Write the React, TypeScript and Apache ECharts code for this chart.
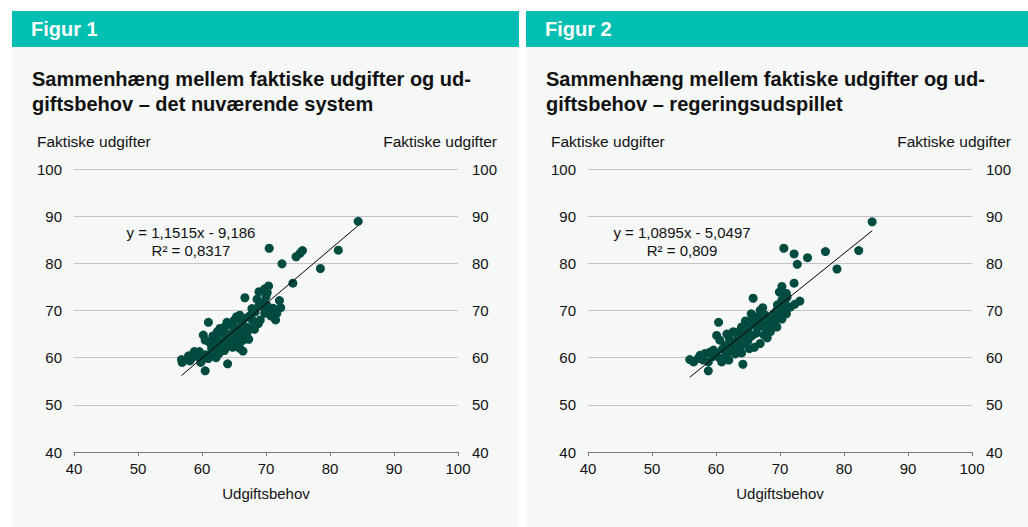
import React, { useEffect, useRef } from "react";
import * as echarts from "echarts";

// ---- Data ----
const panelHeaders = ["Figur 1", "Figur 2"];
const panelTitles = [
  "Sammenhæng mellem faktiske udgifter og ud-\ngiftsbehov – det nuværende system",
  "Sammenhæng mellem faktiske udgifter og ud-\ngiftsbehov – regeringsudspillet",
];
const yAxisName = "Faktiske udgifter";
const xAxisName = "Udgiftsbehov";
const axisMin = 40;
const axisMax = 100;
const axisStep = 10;

const trend1 = { slope: 1.1515, intercept: -9.186, label: "y = 1,1515x - 9,186", r2: "R² = 0,8317" };
const trend2 = { slope: 1.0895, intercept: -5.0497, label: "y = 1,0895x - 5,0497", r2: "R² = 0,809" };

// [udgiftsbehov, faktiske udgifter]
const points1: [number, number][] = [
  [84.4, 88.9], [81.3, 82.8], [78.5, 78.9], [75.7, 82.7], [75.3, 82.1], [74.7, 81.4], [70.5, 83.2],
  [72.5, 79.9], [74.2, 75.8], [70.4, 75.2], [68.9, 74.0], [70.2, 73.8], [68.6, 72.4], [66.7, 72.7],
  [72.1, 72.1], [69.8, 74.6], [70.0, 72.9],
  [71.7, 69.4], [71.1, 70.5], [70.4, 70.1], [69.8, 69.4], [69.1, 68.0], [70.8, 68.8], [71.5, 68.0],
  [69.5, 70.8], [68.3, 69.7], [67.6, 69.0], [68.8, 67.2], [67.9, 67.9], [67.2, 68.6], [66.5, 68.3],
  [65.9, 69.0], [65.4, 68.7], [66.2, 67.6], [65.0, 67.9], [64.6, 66.9], [66.9, 66.5], [67.5, 66.2],
  [68.2, 66.0], [66.0, 66.3], [65.5, 65.6],
  [63.6, 66.6], [63.3, 65.2], [62.8, 66.2], [62.4, 65.5], [64.3, 65.0], [64.9, 64.6], [65.8, 64.9],
  [66.8, 64.6], [67.3, 63.9], [66.3, 63.6], [65.4, 63.4], [64.7, 63.6], [63.9, 63.9], [63.2, 63.4],
  [62.3, 64.0], [61.7, 64.6], [61.2, 63.2], [60.5, 63.7], [60.2, 64.8], [61.0, 67.5], [64.0, 62.4],
  [64.8, 62.2], [65.9, 62.0], [66.4, 61.4], [63.0, 62.3], [62.3, 62.3], [61.8, 61.3], [61.3, 60.6],
  [62.6, 60.8], [63.5, 61.5],
  [60.0, 59.5], [59.4, 60.2], [58.9, 60.9], [58.4, 59.9], [59.6, 61.3], [60.6, 60.6], [61.0, 59.8],
  [59.8, 59.0], [56.8, 59.6], [56.9, 59.0], [57.9, 60.4], [58.1, 59.3], [60.5, 57.2], [64.0, 58.7],
  [62.2, 60.0],
  [69.3, 71.6], [67.8, 70.4], [72.3, 70.6], [68.9, 71.0], [65.1, 66.4], [63.9, 67.5], [62.0, 62.8],
  [67.0, 65.1], [58.8, 61.3], [61.5, 62.0], [70.1, 71.2], [62.8, 61.6],
];

const points2: [number, number][] = [
  [84.4, 88.8], [82.3, 82.7], [78.9, 78.8], [77.1, 82.5], [74.3, 81.2], [72.2, 82.0], [70.6, 83.2],
  [72.7, 79.8], [72.2, 75.8], [70.3, 75.1], [69.9, 73.9], [70.5, 73.2], [71.1, 72.8], [65.8, 72.6],
  [73.1, 72.0], [72.3, 71.3], [71.6, 70.7], [71.0, 69.3], [69.5, 70.0], [70.3, 72.2], [71.0, 73.6],
  [70.0, 70.0], [70.8, 70.4], [69.0, 69.3], [68.4, 67.6], [67.4, 67.2], [69.5, 68.3], [67.7, 69.0],
  [66.9, 70.0], [66.4, 68.6], [65.3, 66.8], [64.8, 65.1], [64.0, 66.5], [63.5, 64.4], [63.0, 63.0],
  [62.2, 61.6], [62.7, 65.5], [66.9, 63.0], [68.2, 68.5], [67.0, 68.0], [66.0, 67.3], [65.7, 68.2],
  [68.8, 66.6], [70.3, 68.2], [69.6, 71.2],
  [60.4, 67.5], [60.1, 64.7], [60.6, 63.7], [61.4, 62.6], [62.1, 64.0], [61.7, 65.0], [63.4, 62.0],
  [64.2, 62.8], [65.0, 63.6], [65.6, 64.6], [66.3, 65.2], [64.5, 64.0], [63.8, 63.4], [62.6, 62.5],
  [61.7, 61.0], [66.0, 62.2], [67.5, 64.8], [65.2, 61.9], [64.0, 61.0], [63.0, 60.8],
  [57.5, 60.5], [58.3, 60.9], [59.1, 61.2], [59.6, 61.6], [58.0, 59.5], [58.8, 59.1], [60.6, 59.9],
  [60.9, 59.1], [55.9, 59.6], [56.5, 59.1], [58.8, 57.2], [64.2, 58.6], [57.2, 59.8], [59.5, 60.2],
  [62.0, 59.5], [61.5, 60.3], [60.0, 60.8],
  [67.8, 66.0], [68.5, 65.5], [66.5, 66.3], [65.0, 66.0], [63.8, 65.8], [62.5, 63.5], [61.0, 61.8],
  [69.2, 67.8], [70.8, 71.5], [67.3, 70.6], [65.5, 69.3], [64.6, 67.8], [68.0, 64.2], [69.5, 66.5],
];

// ---- Styles ----
const TEAL = "#00BFB2";
const PANEL_BG = "#F6F8F8";
const DOT = "#004B40";
const FONT = "'Liberation Sans', Arial, sans-serif";
const TEXT = "#111111";

function trendLine(pts: [number, number][], t: { slope: number; intercept: number }) {
  const xs = pts.map((p) => p[0]);
  const x0 = Math.min(...xs);
  const x1 = Math.max(...xs);
  return [
    [x0, t.slope * x0 + t.intercept],
    [x1, t.slope * x1 + t.intercept],
  ];
}

export default function App() {
  const ref = useRef<HTMLDivElement>(null);

  useEffect(() => {
    if (!ref.current) return;
    const chart = echarts.init(ref.current, null, { renderer: "svg" });

    const panels = [
      { x: 12, w: 507, gridLeft: 74, pts: points1, trend: trend1, eqX: 191 },
      { x: 526, w: 502, gridLeft: 588, pts: points2, trend: trend2, eqX: 682 },
    ];
    const gridW = 384;
    const gridTop = 169;
    const gridH = 283;

    const graphics: any[] = [];
    panels.forEach((p, i) => {
      graphics.push({
        type: "rect",
        z: -10,
        shape: { x: p.x, y: 47, width: p.w, height: 480 },
        style: { fill: PANEL_BG },
        silent: true,
      });
      graphics.push({
        type: "rect",
        z: -10,
        shape: { x: p.x, y: 11, width: p.w, height: 36 },
        style: { fill: TEAL },
        silent: true,
      });
      graphics.push({
        type: "text",
        x: p.x + 19,
        y: 29,
        style: {
          text: panelHeaders[i],
          fill: "#ffffff",
          font: `bold 20px ${FONT}`,
          verticalAlign: "middle",
          align: "left",
        },
      });
      graphics.push({
        type: "text",
        x: p.x + 20,
        y: 66,
        style: {
          text: panelTitles[i],
          fill: TEXT,
          font: `bold 20px ${FONT}`,
          lineHeight: 25,
          verticalAlign: "top",
          align: "left",
        },
      });
      graphics.push({
        type: "text",
        x: p.gridLeft - 37,
        y: 141,
        style: { text: yAxisName, fill: TEXT, font: `15.5px ${FONT}`, verticalAlign: "middle", align: "left" },
      });
      graphics.push({
        type: "text",
        x: p.gridLeft + gridW + 39,
        y: 141,
        style: { text: yAxisName, fill: TEXT, font: `15.5px ${FONT}`, verticalAlign: "middle", align: "right" },
      });
      graphics.push({
        type: "text",
        x: p.eqX,
        y: 223,
        style: {
          text: p.trend.label + "\n" + p.trend.r2,
          fill: TEXT,
          font: `15px ${FONT}`,
          lineHeight: 18,
          verticalAlign: "top",
          align: "center",
        },
      });
    });

    const xAxes: any[] = [];
    const yAxes: any[] = [];
    const series: any[] = [];
    const grids: any[] = [];
    panels.forEach((p, i) => {
      grids.push({ left: p.gridLeft, top: gridTop, width: gridW, height: gridH });
      xAxes.push({
        type: "value",
        gridIndex: i,
        min: axisMin,
        max: axisMax,
        interval: axisStep,
        name: xAxisName,
        nameLocation: "middle",
        nameGap: 34,
        nameTextStyle: { fontSize: 15, fontFamily: FONT, color: TEXT },
        axisLine: { show: true, lineStyle: { color: "#7a7a7a", width: 1 } },
        axisTick: { show: true, length: 4, lineStyle: { color: "#7a7a7a" } },
        axisLabel: { fontSize: 15, fontFamily: FONT, color: TEXT, margin: 9 },
        splitLine: { show: false },
        z: 5,
      });
      yAxes.push({
        type: "value",
        gridIndex: i,
        position: "left",
        min: axisMin,
        max: axisMax,
        interval: axisStep,
        axisLine: { show: false },
        axisTick: { show: false },
        axisLabel: { fontSize: 15, fontFamily: FONT, color: TEXT, margin: 12 },
        splitLine: { show: true, lineStyle: { color: "#c4c4c4", width: 1 } },
      });
      yAxes.push({
        type: "value",
        gridIndex: i,
        position: "right",
        min: axisMin,
        max: axisMax,
        interval: axisStep,
        axisLine: { show: false },
        axisTick: { show: false },
        axisLabel: { fontSize: 15, fontFamily: FONT, color: TEXT, margin: 14 },
        splitLine: { show: false },
      });
      series.push({
        type: "scatter",
        xAxisIndex: i,
        yAxisIndex: i * 2,
        data: p.pts,
        symbolSize: 9,
        itemStyle: { color: DOT, opacity: 1 },
        z: 3,
      });
      series.push({
        type: "line",
        xAxisIndex: i,
        yAxisIndex: i * 2,
        data: trendLine(p.pts, p.trend),
        symbol: "none",
        lineStyle: { color: "#000000", width: 1 },
        z: 4,
      });
    });

    chart.setOption({
      animation: false,
      backgroundColor: "#ffffff",
      textStyle: { fontFamily: FONT },
      grid: grids,
      xAxis: xAxes,
      yAxis: yAxes,
      series,
      graphic: graphics,
    });

    return () => chart.dispose();
  }, []);

  return (
    <div
      ref={ref}
      style={{ position: "fixed", left: 0, top: 0, width: 1028, height: 527 }}
    />
  );
}
